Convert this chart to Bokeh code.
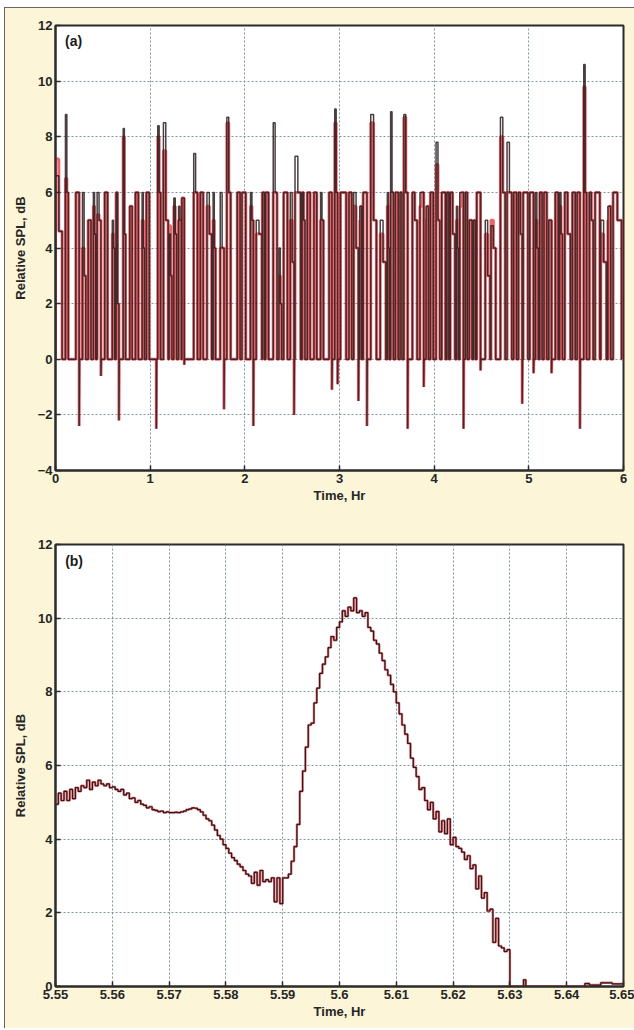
from bokeh.plotting import figure
from bokeh.models import FixedTicker, Label, Range1d
from bokeh.layouts import column
from bokeh.embed import file_html
from bokeh.resources import INLINE

# ---------------- Panel (a): 0-6 h record (pulses) ----------------
a_start = [0.000, 0.105, 0.215, 0.285, 0.345, 0.400, 0.440, 0.520, 0.600, 0.640,
           0.715, 0.785, 0.845, 0.915, 0.960, 1.055, 1.080, 1.140, 1.200, 1.250,
           1.300, 1.335, 1.460, 1.530, 1.600, 1.665, 1.740, 1.810, 1.920, 1.970,
           2.060, 2.120, 2.185, 2.220, 2.300, 2.360, 2.410, 2.480, 2.530, 2.605,
           2.660, 2.730, 2.800, 2.890, 2.950, 3.010, 3.100, 3.150, 3.215, 3.250,
           3.330, 3.430, 3.505, 3.540, 3.590, 3.640, 3.680, 3.770, 3.850, 3.915,
           3.960, 4.020, 4.080, 4.135, 4.170, 4.235, 4.270, 4.330, 4.370, 4.415,
           4.450, 4.540, 4.600, 4.700, 4.770, 4.840, 4.890, 4.940, 5.010, 5.070,
           5.115, 5.160, 5.210, 5.280, 5.325, 5.380, 5.460, 5.510, 5.580, 5.640,
           5.700, 5.760, 5.835, 5.890]
a_width = [0.070, 0.030, 0.035, 0.035, 0.030, 0.025, 0.040, 0.030, 0.025, 0.030,
           0.025, 0.025, 0.030, 0.025, 0.030, 0.010, 0.030, 0.050, 0.030, 0.030,
           0.030, 0.025, 0.040, 0.030, 0.050, 0.025, 0.040, 0.040, 0.030, 0.040,
           0.030, 0.060, 0.020, 0.030, 0.040, 0.030, 0.040, 0.040, 0.060, 0.030,
           0.030, 0.030, 0.030, 0.030, 0.030, 0.060, 0.030, 0.050, 0.020, 0.040,
           0.060, 0.060, 0.020, 0.030, 0.030, 0.020, 0.040, 0.050, 0.040, 0.025,
           0.030, 0.040, 0.040, 0.020, 0.050, 0.020, 0.040, 0.020, 0.030, 0.020,
           0.040, 0.050, 0.050, 0.050, 0.050, 0.030, 0.040, 0.050, 0.040, 0.030,
           0.025, 0.030, 0.030, 0.030, 0.030, 0.060, 0.030, 0.030, 0.030, 0.040,
           0.050, 0.060, 0.030, 0.090]
a_top = [6.6, 8.8, 6.0, 6.0, 5.0, 6.0, 6.0, 6.0, 5.0, 6.0,
         8.3, 5.5, 6.0, 6.0, 6.0, 0.0, 8.4, 8.5, 4.5, 5.8,
         5.5, 5.8, 7.4, 6.0, 6.0, 6.0, 6.0, 8.7, 6.0, 6.0,
         6.0, 5.0, 6.0, 6.0, 8.5, 4.0, 6.0, 6.0, 7.3, 6.0,
         6.0, 6.0, 6.0, 6.0, 9.0, 6.0, 6.0, 6.0, 5.5, 6.0,
         8.8, 5.0, 6.0, 8.9, 6.0, 6.0, 8.8, 6.0, 6.0, 5.5,
         6.0, 7.8, 6.0, 6.0, 6.0, 5.5, 6.0, 6.0, 5.0, 5.0,
         6.0, 5.0, 4.8, 8.7, 7.8, 6.0, 6.0, 6.0, 6.0, 6.0,
         6.0, 6.0, 5.0, 6.0, 6.0, 6.0, 6.0, 6.0, 10.6, 6.0,
         6.0, 5.0, 5.5, 6.0]
a_mid = [4.6, 6.0, 6.0, 3.0, 5.0, 4.5, 5.0, 6.0, 4.0, 2.0,
         4.5, 5.5, 6.0, 4.0, 6.0, 0.0, 6.0, 5.0, 3.0, 4.5,
         5.0, 5.8, 6.0, 6.0, 4.5, 4.0, 4.0, 6.0, 6.0, 6.0,
         5.0, 4.5, 6.0, 6.0, 6.0, 2.0, 6.0, 3.5, 6.0, 5.0,
         6.0, 6.0, 5.0, 6.0, 6.0, 6.0, 6.0, 4.0, 5.5, 6.0,
         5.0, 3.5, 4.0, 6.0, 6.0, 6.0, 6.0, 5.0, 6.0, 5.5,
         6.0, 5.0, 6.0, 6.0, 4.5, 4.0, 6.0, 6.0, 5.0, 5.0,
         6.0, 3.0, 4.0, 6.0, 6.0, 6.0, 4.5, 6.0, 6.0, 4.0,
         6.0, 6.0, 5.0, 6.0, 4.5, 4.5, 6.0, 6.0, 6.0, 5.0,
         6.0, 3.5, 5.5, 5.0]
a_low = [0.0, 0.0, -2.4, 0.0, 0.0, 0.0, -0.6, 0.0, 0.0, -2.2,
         0.0, 0.0, 0.0, 0.0, 0.0, -2.5, 0.0, 0.0, 0.0, 0.0,
         0.0, -0.2, 0.0, 0.0, 0.0, 0.0, -1.8, 0.0, 0.0, 0.0,
         -2.4, 0.0, 0.0, 0.0, 0.0, 0.0, 0.0, -2.0, 0.0, 0.0,
         0.0, 0.0, 0.0, -1.1, -0.9, 0.0, 0.0, -1.5, 0.0, -2.4,
         0.0, 0.0, 0.0, 0.0, 0.0, 0.0, -2.5, 0.0, -1.0, 0.0,
         0.0, 0.0, 0.0, 0.0, 0.0, 0.0, -2.5, 0.0, 0.0, 0.0,
         -0.4, 0.0, 0.0, 0.0, 0.0, 0.0, -1.6, 0.0, -0.5, 0.0,
         0.0, 0.0, -0.5, 0.0, 0.0, 0.0, 0.0, -2.5, 0.0, 0.0,
         0.0, 0.0, 0.0, 0.0]
a_red_top = [7.2, 6.5, 6.0, 4.0, 5.0, 5.5, 5.2, 6.0, 4.5, 6.0,
             8.0, 5.5, 6.0, 5.0, 6.0, 0.0, 8.0, 7.5, 4.8, 5.5,
             5.0, 5.8, 6.0, 6.0, 5.5, 5.0, 4.0, 8.5, 6.0, 6.0,
             5.5, 4.5, 6.0, 6.0, 6.0, 3.0, 6.0, 5.0, 6.0, 6.0,
             6.0, 6.0, 5.0, 6.0, 8.5, 6.0, 6.0, 5.5, 5.0, 6.0,
             8.5, 4.5, 5.5, 6.0, 6.0, 6.0, 8.7, 6.0, 5.5, 5.0,
             6.0, 7.0, 6.0, 6.0, 6.0, 5.0, 5.5, 6.0, 5.0, 4.5,
             6.0, 4.5, 5.0, 8.0, 6.0, 6.0, 6.0, 6.0, 6.0, 5.0,
             6.0, 6.0, 5.0, 6.0, 5.5, 6.0, 6.0, 6.0, 9.8, 6.0,
             6.0, 4.5, 5.0, 6.0]

a_xticks = [0, 1, 2, 3, 4, 5, 6]
a_yticks = [-4, -2, 0, 2, 4, 6, 8, 10, 12]

# ---------------- Panel (b): zoom 5.55-5.65 h ----------------
b_time = [5.5500, 5.5505, 5.5510, 5.5515, 5.5520, 5.5525, 5.5530, 5.5535, 5.5540, 5.5545,
          5.5550, 5.5555, 5.5560, 5.5565, 5.5570, 5.5575, 5.5580, 5.5585, 5.5590, 5.5595,
          5.5600, 5.5605, 5.5610, 5.5615, 5.5620, 5.5625, 5.5630, 5.5635, 5.5640, 5.5645,
          5.5650, 5.5655, 5.5660, 5.5665, 5.5670, 5.5675, 5.5680, 5.5685, 5.5690, 5.5695,
          5.5700, 5.5705, 5.5710, 5.5715, 5.5720, 5.5725, 5.5730, 5.5735, 5.5740, 5.5745,
          5.5750, 5.5755, 5.5760, 5.5765, 5.5770, 5.5775, 5.5780, 5.5785, 5.5790, 5.5795,
          5.5800, 5.5805, 5.5810, 5.5815, 5.5820, 5.5825, 5.5830, 5.5835, 5.5840, 5.5845,
          5.5850, 5.5855, 5.5860, 5.5865, 5.5870, 5.5875, 5.5880, 5.5885, 5.5890, 5.5895,
          5.5900, 5.5905, 5.5910, 5.5915, 5.5920, 5.5925, 5.5930, 5.5935, 5.5940, 5.5945,
          5.5950, 5.5955, 5.5960, 5.5965, 5.5970, 5.5975, 5.5980, 5.5985, 5.5990, 5.5995,
          5.6000, 5.6005, 5.6010, 5.6015, 5.6020, 5.6025, 5.6030, 5.6035, 5.6040, 5.6045,
          5.6050, 5.6055, 5.6060, 5.6065, 5.6070, 5.6075, 5.6080, 5.6085, 5.6090, 5.6095,
          5.6100, 5.6105, 5.6110, 5.6115, 5.6120, 5.6125, 5.6130, 5.6135, 5.6140, 5.6145,
          5.6150, 5.6155, 5.6160, 5.6165, 5.6170, 5.6175, 5.6180, 5.6185, 5.6190, 5.6195,
          5.6200, 5.6205, 5.6210, 5.6215, 5.6220, 5.6225, 5.6230, 5.6235, 5.6240, 5.6245,
          5.6250, 5.6255, 5.6260, 5.6265, 5.6270, 5.6275, 5.6280, 5.6285, 5.6290, 5.6295,
          5.6300, 5.6320, 5.6324, 5.6328, 5.6420, 5.6432, 5.6440, 5.6460, 5.6480, 5.6500]
b_spl = [4.95, 5.25, 5.05, 5.30, 5.05, 5.35, 5.10, 5.40, 5.30, 5.45,
         5.40, 5.60, 5.35, 5.55, 5.45, 5.60, 5.50, 5.45, 5.50, 5.40,
         5.42, 5.35, 5.30, 5.35, 5.20, 5.25, 5.10, 5.12, 5.00, 5.05,
         4.95, 4.92, 4.85, 4.88, 4.80, 4.78, 4.75, 4.76, 4.72, 4.74,
         4.72, 4.72, 4.73, 4.72, 4.74, 4.76, 4.80, 4.82, 4.85, 4.84,
         4.80, 4.74, 4.65, 4.55, 4.50, 4.38, 4.25, 4.10, 4.00, 3.85,
         3.75, 3.62, 3.50, 3.42, 3.32, 3.25, 3.15, 3.05, 3.00, 2.80,
         3.10, 2.75, 3.15, 2.85, 2.90, 2.85, 2.95, 2.30, 2.95, 2.25,
         2.95, 2.95, 3.05, 3.40, 3.80, 4.40, 5.30, 5.85, 6.50, 7.10,
         7.15, 7.70, 8.10, 8.50, 8.75, 8.95, 9.20, 9.50, 9.40, 9.75,
         9.90, 10.20, 10.05, 10.30, 10.20, 10.55, 10.15, 10.20, 10.05, 10.15,
         9.75, 9.65, 9.40, 9.30, 9.05, 8.85, 8.60, 8.45, 8.20, 8.00,
         7.70, 7.40, 7.10, 6.85, 6.60, 6.20, 5.95, 5.70, 5.35, 5.40,
         5.05, 4.80, 5.00, 4.55, 4.75, 4.20, 4.50, 4.15, 4.55, 3.85,
         4.05, 3.80, 3.75, 3.65, 3.45, 3.55, 3.20, 3.30, 2.65, 3.00,
         2.40, 2.55, 2.05, 2.10, 1.20, 1.85, 1.10, 1.05, 0.95, 1.00,
         0.00, 0.00, 0.18, 0.00, 0.00, 0.08, 0.04, 0.10, 0.07, 0.10]

b_xticks = [5.55, 5.56, 5.57, 5.58, 5.59, 5.60, 5.61, 5.62, 5.63, 5.64, 5.65]
b_xlabels = ["5.55", "5.56", "5.57", "5.58", "5.59", "5.6", "5.61", "5.62", "5.63", "5.64", "5.65"]
b_yticks = [0, 2, 4, 6, 8, 10, 12]

BEIGE = "#fcf5d7"
BLACK = "#2a1d1d"
RED = "#e2303a"
GRID = "#6f8c98"
FONT = "Liberation Sans"


def pulse_path(starts, widths, tops, mids, lows):
    xs, ys = [], []
    for s, w, t, m, l in zip(starts, widths, tops, mids, lows):
        xs += [s, s, s + w / 2, s + w / 2, s + w, s + w, s + w + 0.003]
        ys += [0.0, t, t, m, m, l, 0.0]
    return xs, ys


def style(p, xticks, yticks, xlabels=None):
    p.background_fill_color = "white"
    p.border_fill_color = BEIGE
    p.outline_line_color = "#2b2b2b"
    p.outline_line_width = 2
    p.xaxis.ticker = FixedTicker(ticks=xticks)
    p.yaxis.ticker = FixedTicker(ticks=yticks)
    if xlabels is not None:
        p.xaxis.major_label_overrides = {t: l for t, l in zip(xticks, xlabels)}
    p.yaxis.major_label_overrides = {t: ("\u2212" + str(-t) if t < 0 else str(t)) for t in yticks}
    for ax in (p.xaxis, p.yaxis):
        ax.major_tick_in = 5
        ax.major_tick_out = 0
        ax.minor_tick_line_color = None
        ax.axis_line_color = "#2b2b2b"
        ax.axis_line_width = 2
        ax.major_tick_line_color = "#2b2b2b"
        ax.major_tick_line_width = 1.5
        ax.major_label_text_font = FONT
        ax.major_label_text_font_size = "13px"
        ax.major_label_text_font_style = "bold"
        ax.major_label_text_color = "#262626"
        ax.axis_label_text_font = FONT
        ax.axis_label_text_font_size = "13px"
        ax.axis_label_text_font_style = "bold"
        ax.axis_label_text_color = "#262626"
        ax.major_label_standoff = 3
    p.xaxis.axis_label_standoff = 2
    p.yaxis.axis_label_standoff = 7
    p.xgrid.ticker = FixedTicker(ticks=xticks)
    p.ygrid.ticker = FixedTicker(ticks=yticks)
    for g in (p.xgrid, p.ygrid):
        g.grid_line_color = GRID
        g.grid_line_dash = "2 2"
        g.grid_line_width = 1
        g.grid_line_alpha = 0.9


# ---------- figure (a) ----------
pa = figure(width=629, height=507, output_backend="svg", toolbar_location=None,
            x_range=Range1d(0, 6), y_range=Range1d(-4, 12),
            min_border_left=50, min_border_right=11, min_border_top=17, min_border_bottom=45,
            x_axis_label="Time, Hr", y_axis_label="Relative SPL, dB")
style(pa, a_xticks, a_yticks)
rx, ry = pulse_path(a_start, a_width, a_red_top, a_mid, a_low)
bx, by = pulse_path(a_start, a_width, a_top, a_mid, a_low)
pa.line(rx, ry, line_color=RED, line_width=3.0, line_alpha=0.75)
pa.line(bx, by, line_color=BLACK, line_width=1.5, line_alpha=0.85)
pa.add_layout(Label(x=0.1, y=11.45, text="(a)", text_font=FONT, text_font_size="14px",
                    text_font_style="bold", text_baseline="middle", text_color="#1a1a1a"))

# ---------- figure (b) ----------
pb = figure(width=629, height=513, output_backend="svg", toolbar_location=None,
            x_range=Range1d(5.55, 5.65), y_range=Range1d(0, 12),
            min_border_left=50, min_border_right=11, min_border_top=29, min_border_bottom=42,
            x_axis_label="Time, Hr", y_axis_label="Relative SPL, dB")
style(pb, b_xticks, b_yticks, b_xlabels)
pb.step(b_time, b_spl, mode="after", line_color=RED, line_width=2.4, line_alpha=0.7)
pb.step(b_time, b_spl, mode="after", line_color=BLACK, line_width=1.2)
pb.add_layout(Label(x=5.5517, y=11.55, text="(b)", text_font=FONT, text_font_size="14px",
                    text_font_style="bold", text_baseline="middle", text_color="#1a1a1a"))

layout = column(pa, pb, spacing=0,
                styles={"background-color": BEIGE, "margin-left": "4px", "margin-top": "7px",
                        "border-left": "1px solid #666", "border-top": "1px solid #666"})
open("out.html", "w").write(file_html(layout, INLINE))
